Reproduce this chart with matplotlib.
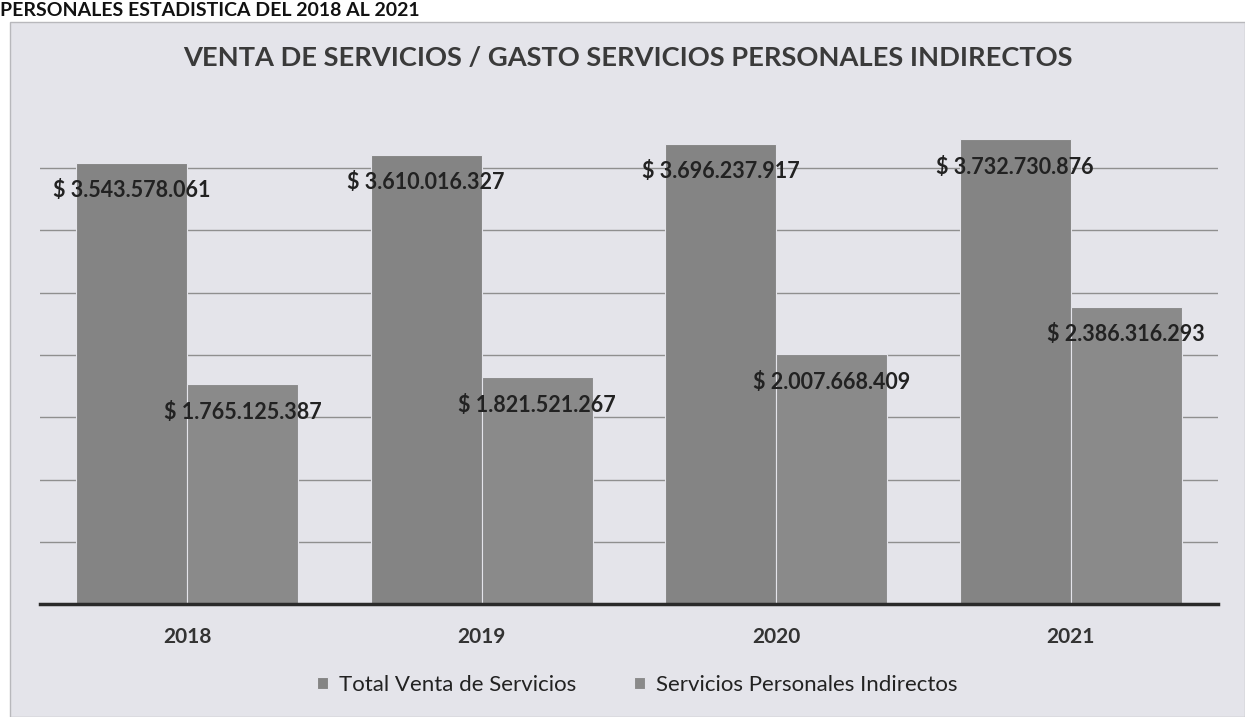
import numpy as np
import matplotlib.pyplot as plt
from matplotlib.patches import Rectangle

years = ["2018", "2019", "2020", "2021"]
venta_total = [3543578061, 3610016327, 3696237917, 3732730876]
gasto_indirectos = [1765125387, 1821521267, 2007668409, 2386316293]
series_names = ["Total Venta de Servicios", "Servicios Personales Indirectos"]


def fmt_peso(v):
    return "$ " + f"{v:,}".replace(",", ".")


plt.rcParams['font.family'] = ['Lato', 'DejaVu Sans']

W, H = 1245, 717
fig = plt.figure(figsize=(W / 100, H / 100), dpi=100)
fig.patch.set_facecolor("white")

# gray chart panel (scanned Excel chart)
fig.patches.append(Rectangle((10 / W, 0), 1 - 10 / W, 1 - 22 / H, transform=fig.transFigure,
                             facecolor="#e4e4ea", edgecolor="#b8b8bc", lw=1, zorder=-5))
# page heading above the chart
fig.text(0.0, 1 - 11 / H, "PERSONALES ESTADISTICA DEL 2018 AL 2021", fontsize=14, fontweight="bold",
         color="#111111", ha="left", va="center")

ax = fig.add_axes([40 / W, 1 - 604 / H, (1218 - 40) / W, (604 - 106) / H])
ax.set_facecolor("none")

x = np.arange(len(years))
bw = 0.377
b1 = ax.bar(x - bw / 2, venta_total, bw, color="#848484", edgecolor="#e4e4ea", lw=0.8,
            label=series_names[0], zorder=2)
b2 = ax.bar(x + bw / 2, gasto_indirectos, bw, color="#8a8a8a", edgecolor="#e4e4ea", lw=0.8,
            label=series_names[1], zorder=2)

for bars, vals in ((b1, venta_total), (b2, gasto_indirectos)):
    for r, v in zip(bars, vals):
        ax.annotate(fmt_peso(v), (r.get_x() + r.get_width() / 2, v), xytext=(0, -28),
                    textcoords="offset pixels",
                    ha="center", va="center", fontsize=15.5, fontweight="bold", color="#222222", zorder=3)

ax.set_xlim(-0.5, len(years) - 0.5)
ax.set_ylim(0, 4e9)
ax.set_yticks(np.arange(0.5e9, 3.6e9, 0.5e9))
ax.yaxis.grid(True, color="#8f8f8f", lw=1)
ax.set_axisbelow(True)
ax.tick_params(axis="y", left=False, labelleft=False)
ax.tick_params(axis="x", bottom=False, pad=13)
ax.set_xticks(x)
ax.set_xticklabels(years, fontsize=15, fontweight="bold", color="#333333")
for s in ("top", "right", "left"):
    ax.spines[s].set_visible(False)
ax.spines["bottom"].set_color("#2a2a2a")
ax.spines["bottom"].set_linewidth(2.5)
ax.spines["bottom"].set_zorder(4)

fig.text(628 / W, 1 - 58 / H, "VENTA DE SERVICIOS / GASTO SERVICIOS PERSONALES INDIRECTOS",
         fontsize=19.6, fontweight="bold", color="#3a3a3a", ha="center", va="center")

fig.legend(handles=[b1, b2], loc="center", bbox_to_anchor=(637 / W, 1 - 685 / H), ncol=2,
           frameon=False, fontsize=16, handlelength=0.5, handleheight=0.5,
           columnspacing=2.6, handletextpad=0.5, labelcolor="#222222")

fig.savefig("out.png", dpi=100, facecolor=fig.get_facecolor())
